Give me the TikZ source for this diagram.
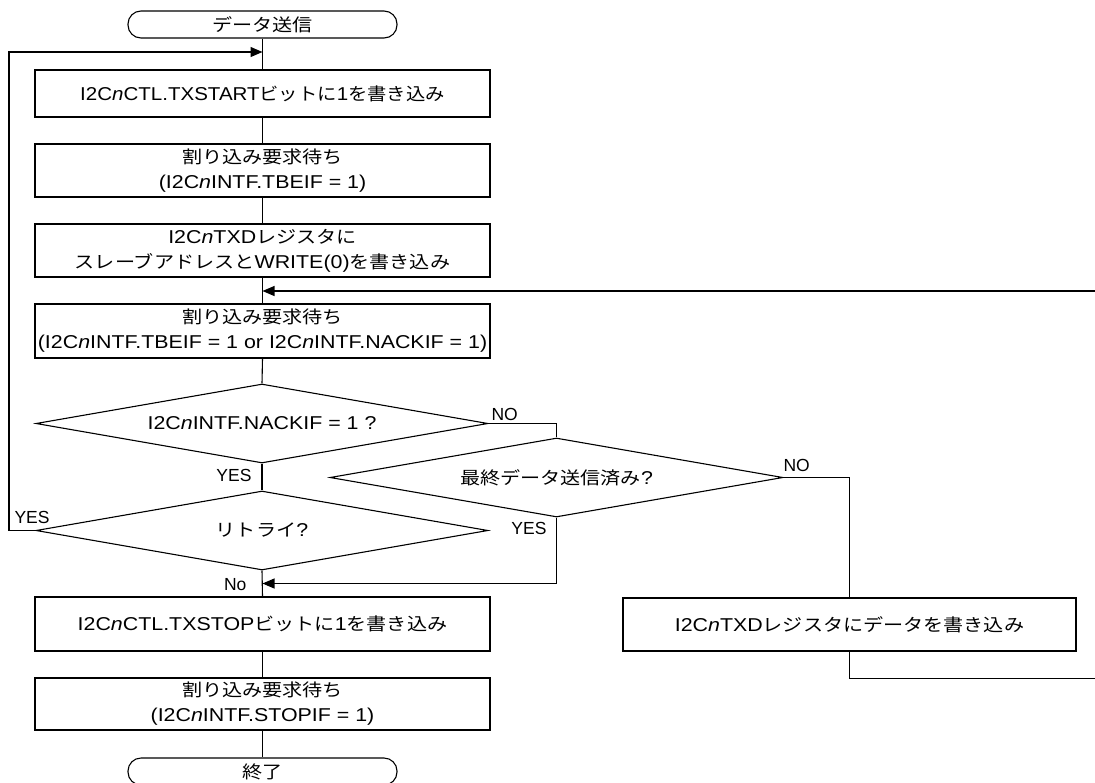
\documentclass[tikz,border=0pt]{standalone}
\usepackage{fontspec}
\usepackage{graphicx}
\setmainfont{Liberation Sans}[FakeStretch=1.15]
\newfontfamily\jpf{Noto Sans CJK JP}[FakeStretch=1.15,Scale=0.94]
\newfontfamily\labf{Liberation Sans}
\usetikzlibrary{shapes.geometric,arrows.meta}
\newcommand\jp[1]{{\jpf #1}}
\newcommand\nI{\textit{n}}
\newcommand\mainsz{\fontsize{18.6}{25}\selectfont}
\begin{document}
\begin{tikzpicture}[x=1pt,y=-1pt, line width=1.1pt,
  every node/.style={font=\mainsz, inner sep=0pt},
  proc/.style={draw, rectangle, minimum width=455pt, align=center},
  term/.style={draw, rectangle, rounded corners=13pt, minimum width=269pt, minimum height=27pt},
  dec/.style={draw, diamond, shape aspect=5.7, minimum width=452pt, minimum height=79pt},
  lab/.style={font=\labf\fontsize{17.5}{20}\selectfont},
  arr/.style={-{Triangle[length=12pt,width=10pt]}}]
\useasboundingbox (0,0) rectangle (1095,782);
\fill[white] (0,0) rectangle (1095,782);

\node[term] (start) at (262.5,24.5) {\jp{データ送信}};
\node[proc, minimum height=47pt] (b1) at (262.5,93.5) {\scalebox{0.96}[1]{I2C\nI{}CTL.TXSTART\jp{ビットに}1\jp{を書き込み}}};
\node[proc, minimum height=53pt] (b2) at (262.5,170.5) {\jp{割り込み要求待ち}\\(I2C\nI{}INTF.TBEIF = 1)};
\node[proc, minimum height=53pt] (b3) at (262.5,250.5) {I2C\nI{}TXD\jp{レジスタに}\\\jp{スレーブアドレスと}WRITE(0)\jp{を書き込み}};
\node[proc, minimum height=54pt] (b4) at (262.5,331) {\jp{割り込み要求待ち}\\(I2C\nI{}INTF.TBEIF = 1 or I2C\nI{}INTF.NACKIF = 1)};
\node[dec] (d1) at (262,423.5) {I2C\nI{}INTF.NACKIF = 1 ?};
\node[dec, minimum width=453pt] (d2) at (556.5,477.5) {\jp{最終データ送信済み}?};
\node[dec] (d3) at (262,530.5) {\jp{リトライ}?};
\node[proc, minimum height=54pt] (b5) at (262.5,624) {I2C\nI{}CTL.TXSTOP\jp{ビットに}1\jp{を書き込み}};
\node[proc, minimum height=52pt] (b6) at (262.5,704) {\jp{割り込み要求待ち}\\(I2C\nI{}INTF.STOPIF = 1)};
\node[term] (end) at (262.5,771.5) {\jp{終了}};
\node[proc, minimum width=453pt, minimum height=53pt] (b7) at (849.5,624.5) {I2C\nI{}TXD\jp{レジスタにデータを書き込み}};

\node[lab, anchor=base west] (no1) at (491,420.5) {NO};
\node[lab, anchor=base east] (yes1) at (252,481.5) {YES};
\node[lab, anchor=base west] (no2) at (783,471.5) {NO};
\node[lab, anchor=base east] (yes2) at (547,534.5) {YES};
\node[lab, anchor=base west] (yes3) at (14,523.5) {YES};
\node[lab, anchor=base east] (no3) at (247,590.5) {No};

\coordinate (loopin) at (262.5,52);
\coordinate (retin) at (262.5,291);
\coordinate (noin) at (262.5,583.5);

\draw (start.south) -- (b1.north);
\draw[arr] (d3.west) -- (9,530.5) |- (loopin);
\draw (b1.south) -- (b2.north);
\draw (b2.south) -- (b3.north);
\draw (b3.south) -- (b4.north);
\draw[arr] (b7.south) -- ++(0,26.5) -| (1100,291) -- (retin);
\draw (b4.south) -- (d1.north);
\draw (d1.east) -| (d2.north);
\draw (d1.south) -- (d3.north);
\draw (d2.east) -| (b7.north);
\draw[arr] (d2.south) |- (noin);
\draw (d3.south) -- (b5.north);
\draw (b5.south) -- (b6.north);
\draw (b6.south) -- (end.north);
\end{tikzpicture}
\end{document}
